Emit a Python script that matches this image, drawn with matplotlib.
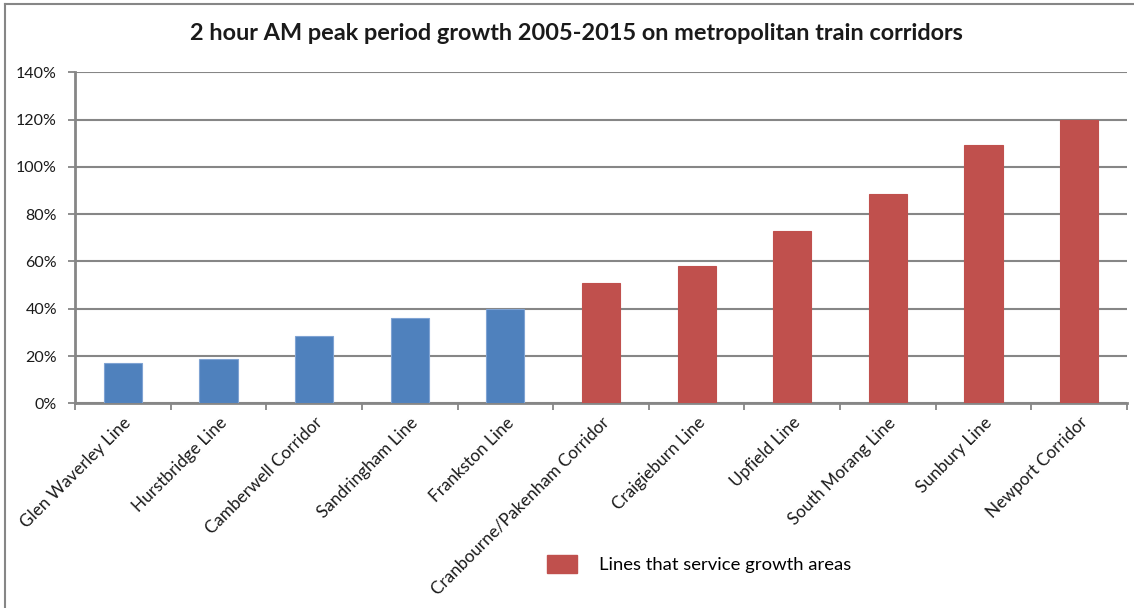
import matplotlib
matplotlib.use("Agg")
import matplotlib.pyplot as plt
from matplotlib.patches import Patch
from matplotlib.lines import Line2D
from matplotlib.ticker import FuncFormatter, FixedLocator

# Corridor growth, 2005-2015 (2 hour AM peak)
corridors = [
    "Glen Waverley Line", "Hurstbridge Line", "Camberwell Corridor",
    "Sandringham Line", "Frankston Line", "Cranbourne/Pakenham Corridor",
    "Craigieburn Line", "Upfield Line", "South Morang Line",
    "Sunbury Line", "Newport Corridor",
]
growth_pct = [17.2, 18.7, 28.3, 35.9, 40.0, 50.8, 58.0, 72.8, 88.5, 109.2, 120.0]
growth_area = [False, False, False, False, False, True, True, True, True, True, True]
y_ticks = [0, 20, 40, 60, 80, 100, 120, 140]

BLUE = "#4F81BD"
RED = "#C0504D"
GRID = "#868686"
FONT = ["Lato", "DejaVu Sans"]

plt.rcParams["font.family"] = FONT

fig = plt.figure(figsize=(11.34, 6.08), dpi=100)
ax = fig.add_axes([75 / 1134, 204.7 / 608, 1052 / 1134, 331 / 608])

x = list(range(len(corridors)))
colors = [RED if g else BLUE for g in growth_area]
edges = ["#C0504D" if g else "#7FA3D3" for g in growth_area]
ax.bar(x, growth_pct, width=0.4, color=colors, edgecolor=edges, linewidth=0.8, zorder=3)

ax.set_xlim(-0.5, len(corridors) - 0.5)
ax.set_ylim(0, 140)
ax.yaxis.set_major_locator(FixedLocator(y_ticks))
ax.yaxis.set_major_formatter(FuncFormatter(lambda v, _: f"{v:.0f}%"))
ax.grid(axis="y", color=GRID, linewidth=1.5, zorder=1)
ax.set_axisbelow(True)

for side in ("top", "right"):
    ax.spines[side].set_visible(False)
for side in ("left", "bottom"):
    ax.spines[side].set_color(GRID)
    ax.spines[side].set_linewidth(2)

# category labels at centres, tick marks at category boundaries
ax.set_xticks(x)
ax.set_xticklabels(corridors, rotation=45, ha="right", va="top",
                   rotation_mode="anchor", fontsize=12.3, color="#1a1a1a")
ax.tick_params(axis="x", which="major", length=0, pad=8)
ax.set_xticks([i - 0.5 for i in range(len(corridors) + 1)], minor=True)
ax.tick_params(axis="x", which="minor", length=5, width=1.3, color=GRID)
ax.tick_params(axis="y", length=5, width=1.3, color=GRID, pad=8,
               labelsize=11.5, labelcolor="#1a1a1a")

fig.text(576 / 1134, 1 - 33 / 608,
         "2 hour AM peak period growth 2005-2015 on metropolitan train corridors",
         ha="center", va="center", fontsize=16.9, fontweight="bold", color="#1a1a1a")

fig.legend(handles=[Patch(facecolor=RED, edgecolor=RED)],
           labels=["Lines that service growth areas"],
           loc="center left", bbox_to_anchor=(547 / 1134, 44 / 608),
           frameon=False, fontsize=13.3, handlelength=1.63, handleheight=1.2,
           handletextpad=1.2, borderaxespad=0, borderpad=0)

# chart frame edges
fig.add_artist(Line2D([5 / 1134, 5 / 1134], [0, 1 - 4 / 608],
                      transform=fig.transFigure, color=GRID, linewidth=1.5))
fig.add_artist(Line2D([5 / 1134, 1], [1 - 4 / 608, 1 - 4 / 608],
                      transform=fig.transFigure, color=GRID, linewidth=1.5))

fig.savefig("out.png", dpi=100, facecolor="white")
